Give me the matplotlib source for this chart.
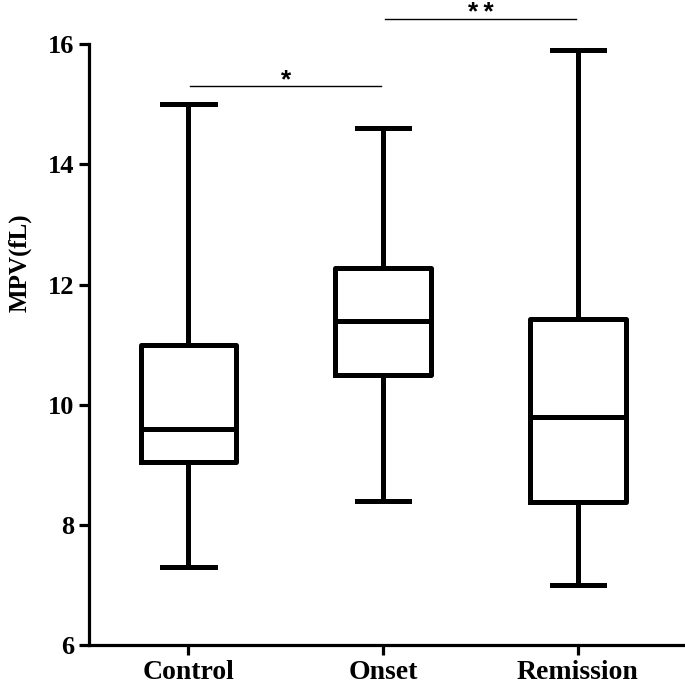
import numpy as np
import matplotlib.pyplot as plt

# box summary values
groups = ['Control', 'Onset', 'Remission']
whislo = [7.3, 8.4, 7.0]
q1 = [9.05, 10.5, 8.38]
med = [9.6, 11.4, 9.8]
q3 = [11.0, 12.27, 11.42]
whishi = [15.0, 14.6, 15.9]

# significance brackets: (left group, right group, height, label)
sig_pairs = [(1, 2, 15.3, '*'), (2, 3, 16.42, '*\u2009*')]

fig = plt.figure(figsize=(6.85, 6.9), dpi=100)
ax = fig.add_axes([0.130, 0.065, 0.870, 0.871])

stats = []
for i, g in enumerate(groups):
    stats.append({'label': g, 'whislo': whislo[i], 'q1': q1[i], 'med': med[i],
                  'q3': q3[i], 'whishi': whishi[i], 'fliers': []})

lw = 3.6
ax.bxp(stats, positions=[1, 2, 3], widths=0.49, showfliers=False,
       boxprops=dict(linewidth=lw, color='black'),
       medianprops=dict(linewidth=lw, color='black'),
       whiskerprops=dict(linewidth=lw, color='black'),
       capprops=dict(linewidth=lw, color='black'),
       capwidths=0.27)

for a, b, h, lab in sig_pairs:
    ax.plot([a + 0.01, b - 0.01], [h, h], color='black', lw=1.0, clip_on=False)
    ax.annotate(lab, xy=((a + b) / 2, h), xytext=(0, 4.5), textcoords='offset points',
                ha='center', va='center', fontsize=19, fontweight='bold',
                fontfamily=['Liberation Sans', 'DejaVu Sans'], annotation_clip=False)

ax.set_xlim(0.49, 3.55)
ax.set_ylim(6, 16)
ax.set_yticks([6, 8, 10, 12, 14, 16])
ax.set_xticks([1, 2, 3])
ax.set_xticklabels(groups)

for s in ['top', 'right']:
    ax.spines[s].set_visible(False)
for s in ['left', 'bottom']:
    ax.spines[s].set_linewidth(2.3)

ax.tick_params(axis='both', width=2.3, length=7, direction='out')
for t in ax.get_yticklabels():
    t.set_fontfamily('Liberation Serif')
    t.set_fontweight('bold')
    t.set_fontsize(19)
for t in ax.get_xticklabels():
    t.set_fontfamily('Liberation Serif')
    t.set_fontweight('bold')
    t.set_fontsize(20)

ax.set_ylabel('MPV(fL)', fontfamily='Liberation Serif', fontweight='bold',
              fontsize=18)
ax.yaxis.set_label_coords(-0.096, 0.637)

fig.savefig('out.png', dpi=100)
